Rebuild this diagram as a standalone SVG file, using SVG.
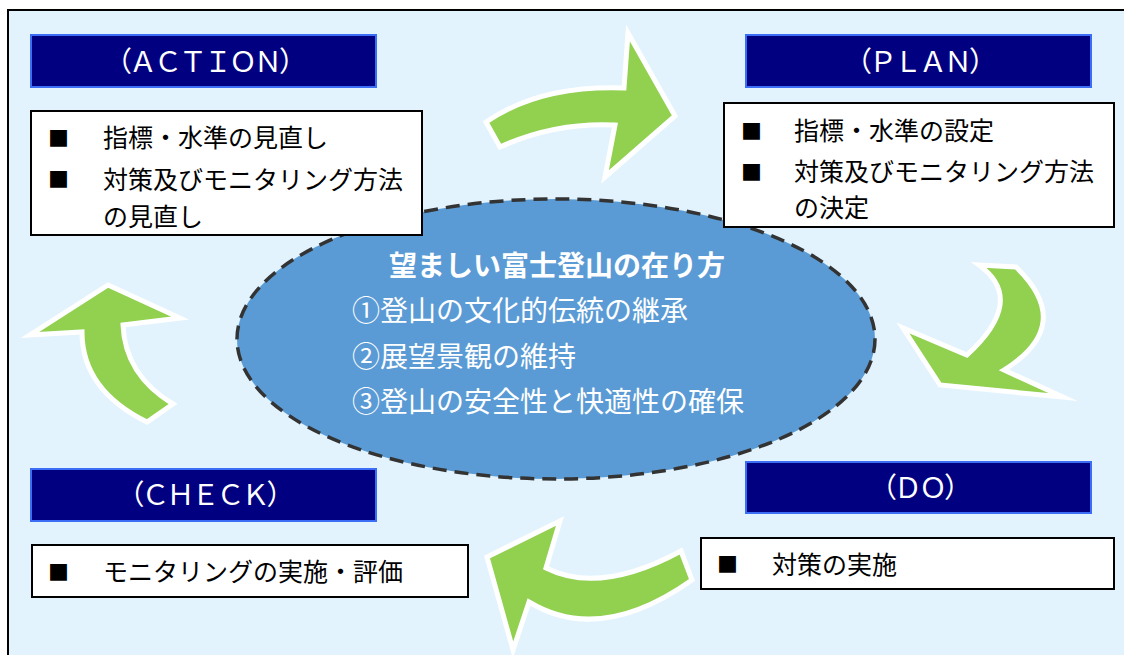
<svg xmlns="http://www.w3.org/2000/svg" width="1124" height="655" viewBox="0 0 1124 655">
<style>
.frame{fill:#E2F3FD;stroke:#000;stroke-width:2}
.hdr{fill:#000080;stroke:#3B6EF5;stroke-width:2}
.hdrt{font-family:"Noto Sans CJK JP","Noto Sans",sans-serif;font-size:28px;letter-spacing:-3px;fill:#fff;text-anchor:middle}
.box{fill:#fff;stroke:#000;stroke-width:2}
.bt{font-family:"Liberation Serif","Noto Sans CJK JP",serif;font-size:25px;fill:#000}
.bul{font-family:"Noto Sans CJK JP",sans-serif;font-size:21px;fill:#000}
.ell{fill:#5B9BD5;stroke:#333;stroke-width:3.5;stroke-dasharray:14 8}
.et{font-family:"Noto Sans CJK JP",sans-serif;font-size:28px;fill:#fff}
.arr{fill:#92D050;stroke:#fff;stroke-width:5;stroke-linejoin:miter;stroke-miterlimit:10}
</style>
<rect class="frame" x="8" y="10" width="1130" height="660"/>
<g id="center">
<ellipse class="ell" cx="556" cy="339" rx="319" ry="140"/>
<text class="et" x="557" y="276" text-anchor="middle" font-weight="bold">望ましい富士登山の在り方</text>
<text class="et" x="352" y="321">①登山の文化的伝統の継承</text>
<text class="et" x="352" y="367">②展望景観の維持</text>
<text class="et" x="352" y="412">③登山の安全性と快適性の確保</text>
</g>
<g id="connectors">
<path class="arr" d="M486,122 Q540,85 624,88 L628,33 L675,116 L605,177 L615,125 Q555,122 500,147 Z"/>
<path class="arr" d="M979,265 L1016,267 Q1076,325 1004,370 L1063,397 L940,385 L903,328 L967,355 Q1027,300 979,265 Z"/>
<path class="arr" d="M681,551 L692,580 Q600,645 529,602 L513,650 L487,557 L560,521 L546,568 Q600,595 681,551 Z"/>
<path class="arr" d="M108,285 L180,318 L123,325 Q125,375 173,404 L147,422 Q82,390 82,332 L30,335 Z"/>
</g>
<g id="action-header">
<rect class="hdr" x="31" y="35" width="345" height="52"/>
<text class="hdrt" x="204" y="72">（ＡＣＴＩＯＮ）</text>
</g>
<g id="action-body">
<rect class="box" x="31" y="111" width="391" height="124"/>
<text class="bul" x="48" y="146">■</text>
<text class="bt" x="103" y="147">指標・水準の見直し</text>
<text class="bul" x="48" y="187">■</text>
<text class="bt" x="103" y="189">対策及びモニタリング方法</text>
<text class="bt" x="103" y="226">の見直し</text>
</g>
<g id="plan-header">
<rect class="hdr" x="746" y="35" width="345" height="52"/>
<text class="hdrt" x="919" y="72">（ＰＬＡＮ）</text>
</g>
<g id="plan-body">
<rect class="box" x="724" y="103" width="390" height="124"/>
<text class="bul" x="741" y="139">■</text>
<text class="bt" x="794" y="140">指標・水準の設定</text>
<text class="bul" x="741" y="180">■</text>
<text class="bt" x="794" y="181">対策及びモニタリング方法</text>
<text class="bt" x="794" y="217">の決定</text>
</g>
<g id="do-header">
<rect class="hdr" x="746" y="462" width="345" height="51"/>
<text class="hdrt" x="919" y="498">（ＤＯ）</text>
</g>
<g id="do-body">
<rect class="box" x="701" y="538" width="413" height="51"/>
<text class="bul" x="717" y="572">■</text>
<text class="bt" x="772" y="574">対策の実施</text>
</g>
<g id="check-header">
<rect class="hdr" x="31" y="469" width="345" height="52"/>
<text class="hdrt" x="204" y="505">（ＣＨＥＣＫ）</text>
</g>
<g id="check-body">
<rect class="box" x="32" y="545" width="436" height="52"/>
<text class="bul" x="48" y="580">■</text>
<text class="bt" x="103" y="581">モニタリングの実施・評価</text>
</g>
</svg>
